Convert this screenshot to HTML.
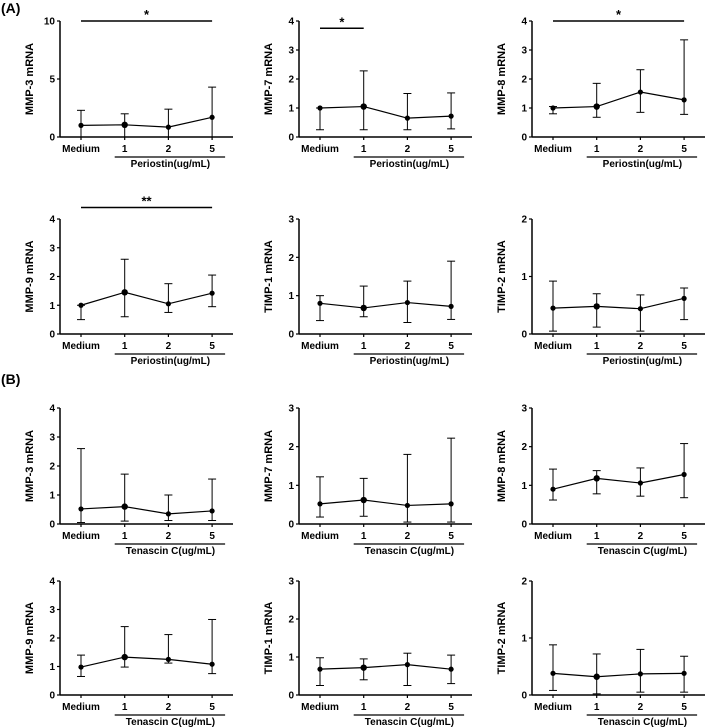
<!DOCTYPE html>
<html><head><meta charset="utf-8"><style>
body{margin:0;background:#fff;}
svg{display:block;font-family:"Liberation Sans",Arial,sans-serif;font-weight:bold;}
</style></head><body>
<svg id="c" width="709" height="728">
<text x="1" y="13" font-size="14">(A)</text>
<text x="1" y="384" font-size="14">(B)</text>
</svg>
<script>
const categories=["Medium","1","2","5"];
const titles=["MMP-3 mRNA","MMP-7 mRNA","MMP-8 mRNA","MMP-9 mRNA","TIMP-1 mRNA","TIMP-2 mRNA","MMP-3 mRNA","MMP-7 mRNA","MMP-8 mRNA","MMP-9 mRNA","TIMP-1 mRNA","TIMP-2 mRNA"];
const yMax=[10,4,4,4,3,2,4,3,3,4,3,2];
const yStep=[5,1,1,1,1,1,1,1,1,1,1,1];
const means=[[1,1.05,0.85,1.7],[1,1.05,0.65,0.72],[1,1.05,1.55,1.28],[1,1.45,1.05,1.42],[0.8,0.68,0.82,0.72],[0.45,0.48,0.44,0.62],[0.52,0.6,0.35,0.45],[0.52,0.62,0.48,0.52],[0.9,1.18,1.06,1.28],[0.98,1.33,1.25,1.08],[0.68,0.72,0.8,0.68],[0.38,0.32,0.37,0.38]];
const uppers=[[2.3,2.0,2.4,4.3],[1.0,2.28,1.5,1.52],[1.05,1.85,2.32,3.35],[1.0,2.6,1.75,2.05],[1.0,1.25,1.38,1.9],[0.92,0.7,0.68,0.8],[2.6,1.72,1.0,1.55],[1.22,1.18,1.8,2.22],[1.42,1.38,1.45,2.08],[1.4,2.4,2.12,2.65],[0.98,0.95,1.1,1.05],[0.88,0.72,0.8,0.68]];
const lowers=[[0,0,0,0],[0.25,0.25,0.25,0.28],[0.8,0.68,0.85,0.78],[0.5,0.6,0.75,0.95],[0.35,0.45,0.3,0.38],[0.05,0.12,0.05,0.25],[0.05,0.1,0.12,0.12],[0.18,0.2,0.05,0.05],[0.62,0.78,0.72,0.68],[0.65,0.98,1.12,0.75],[0.25,0.4,0.25,0.3],[0.08,0.02,0.05,0.05]];
const sigs=[[0,3,10,"*"],[0,1,3.75,"*"],[0,3,4,"*"],[0,3,4.4,"**"],null,null,null,null,null,null,null,null];
const treatments=["Periostin(ug/mL)","Tenascin C(ug/mL)"];
const colX=[60,299,532];
const rowY=[[21,137],[219,334],[408,524],[581,695]];
const svg=document.getElementById('c');
const NS="http://www.w3.org/2000/svg";
function mk(tag,attrs,parent){const e=document.createElementNS(NS,tag);for(const k in attrs)e.setAttribute(k,attrs[k]);(parent||svg).appendChild(e);return e;}
for(let p=0;p<12;p++){
  const r=Math.floor(p/3),c=p%3;
  const ax=colX[c],top=rowY[r][0],bot=rowY[r][1];
  const g=mk('g',{});
  
  
  const ys=v=>bot-(v/yMax[p])*(bot-top);
  const xs=i=>ax+21+i*43.7;
  const yl=mk('line',{x1:ax,y1:top,x2:ax,y2:bot,stroke:'#000','stroke-width':1.5},g);
  
  const xl=mk('line',{x1:ax,y1:bot,x2:ax+173,y2:bot,stroke:'#000','stroke-width':1.5},g);
  
  for(let v=0;v<=yMax[p];v+=yStep[p]){
    mk('line',{x1:ax-3,y1:ys(v),x2:ax,y2:ys(v),stroke:'#000','stroke-width':1.2},g);
    const t=mk('text',{x:ax-5,y:ys(v)+3.5,'font-size':10,'text-anchor':'end'},g);t.textContent=v;
    
  }
  const ttl=mk('text',{x:0,y:0,'font-size':11,'text-anchor':'middle',transform:`translate(${ax-27},${(top+bot)/2}) rotate(-90)`},g);
  ttl.textContent=titles[p];
  categories.forEach((cat,i)=>{
    mk('line',{x1:xs(i),y1:bot,x2:xs(i),y2:bot+3,stroke:'#000','stroke-width':1.2},g);
    const t=mk('text',{x:xs(i),y:bot+15,'font-size':10,'text-anchor':'middle'},g);t.textContent=cat;
    
  });
  const ul=mk('line',{x1:xs(1)-10,y1:bot+20,x2:xs(3)+13,y2:bot+20,stroke:'#000','stroke-width':1.3},g);
  
  const tl=mk('text',{x:(xs(1)+xs(3))/2+2,y:bot+30,'font-size':10,'text-anchor':'middle'},g);
  tl.textContent=treatments[r<2?0:1];
  categories.forEach((cat,i)=>{
    const x=xs(i);
    const eb=mk('g',{stroke:'#000','stroke-width':1},g);
    
    mk('line',{x1:x,y1:ys(lowers[p][i]),x2:x,y2:ys(uppers[p][i])},eb);
    mk('line',{x1:x-4,y1:ys(lowers[p][i]),x2:x+4,y2:ys(lowers[p][i])},eb);
    mk('line',{x1:x-4,y1:ys(uppers[p][i]),x2:x+4,y2:ys(uppers[p][i])},eb);
  });
  const pts=means[p].map((v,i)=>xs(i)+','+ys(v)).join(' ');
  const pl=mk('polyline',{points:pts,fill:'none',stroke:'#000','stroke-width':1.2},g);
  
  means[p].forEach((v,i)=>{
    const d=mk('circle',{cx:xs(i),cy:ys(v),r:i==1?3.2:2.6,fill:'#000'},g);
    
  });
  if(sigs[p]){
    const s=sigs[p];
    const sy=ys(s[2]);
    const sl=mk('line',{x1:xs(s[0]),y1:sy,x2:xs(s[1]),y2:sy,stroke:'#000','stroke-width':1.5},g);
    
    const st=mk('text',{x:(xs(s[0])+xs(s[1]))/2,y:sy-2,'font-size':13,'text-anchor':'middle'},g);
    st.textContent=s[3];
  }
}
</script>
</body></html>
